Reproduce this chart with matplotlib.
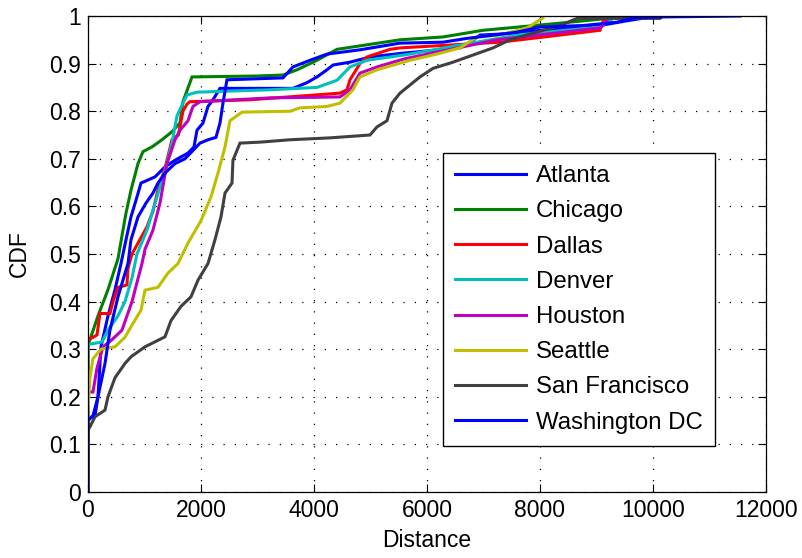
import numpy as np
import matplotlib
matplotlib.use('Agg')
import matplotlib.pyplot as plt

plt.rcParams['font.family'] = ['Liberation Sans', 'DejaVu Sans']

# CDF breakpoints (distance, cdf)
atlanta_x = [0, 0, 124, 177, 230, 354, 478, 584, 673, 761, 850, 938, 1186, 1363, 1540, 1770, 1876, 1929,
             2035, 2124, 2212, 2336, 3628, 3876, 4053, 4230, 4336, 4637, 4991, 5575, 6584, 6708, 6938,
             7292, 8478, 9062, 9540, 10071]
atlanta_y = [0, 0.155, 0.16, 0.2, 0.305, 0.37, 0.425, 0.48, 0.53, 0.578, 0.613, 0.649, 0.662, 0.683, 0.697,
             0.712, 0.725, 0.76, 0.775, 0.81, 0.824, 0.848, 0.848, 0.86, 0.872, 0.887, 0.897, 0.903, 0.914,
             0.922, 0.933, 0.94, 0.96, 0.962, 0.975, 0.98, 0.99, 1.0]

chicago_x = [0, 0, 35, 177, 354, 531, 619, 673, 761, 885, 973, 1133, 1310, 1487, 1628, 1681, 1841, 3000,
             3451, 3699, 4053, 4407, 5522, 6283, 6991, 8354, 9292, 9300]
chicago_y = [0, 0.31, 0.32, 0.37, 0.425, 0.49, 0.55, 0.586, 0.634, 0.69, 0.715, 0.725, 0.74, 0.757, 0.775,
             0.82, 0.872, 0.874, 0.876, 0.887, 0.907, 0.93, 0.95, 0.956, 0.97, 0.985, 0.996, 1.0]

dallas_x = [0, 0, 90, 160, 212, 389, 442, 531, 690, 708, 779, 1044, 1150, 1239, 1363, 1487, 1600, 1681,
            1752, 1805, 2867, 4460, 4584, 4637, 4814, 4938, 5345, 5522, 7292, 9062, 9150]
dallas_y = [0, 0.32, 0.325, 0.33, 0.375, 0.375, 0.40, 0.43, 0.435, 0.47, 0.50, 0.557, 0.59, 0.635, 0.68,
            0.74, 0.75, 0.80, 0.815, 0.82, 0.824, 0.838, 0.845, 0.866, 0.90, 0.914, 0.93, 0.933, 0.945,
            0.97, 1.0]

denver_x = [0, 0, 248, 354, 531, 655, 779, 867, 1044, 1221, 1363, 1487, 1575, 1681, 1752, 1929, 3221,
            4053, 4407, 4637, 4938, 5699, 7593, 9062, 9363]
denver_y = [0, 0.31, 0.315, 0.34, 0.37, 0.40, 0.45, 0.50, 0.55, 0.62, 0.675, 0.733, 0.79, 0.817, 0.834,
            0.84, 0.845, 0.85, 0.865, 0.893, 0.907, 0.92, 0.96, 0.977, 1.0]

houston_x = [0, 0, 88, 159, 265, 425, 602, 690, 779, 867, 956, 1009, 1150, 1274, 1398, 1540, 1628, 1770,
             1858, 1982, 3221, 4460, 4637, 4814, 5115, 5600, 7239, 9062, 9115, 9239]
houston_y = [0, 0.21, 0.21, 0.26, 0.305, 0.32, 0.34, 0.37, 0.40, 0.44, 0.48, 0.51, 0.55, 0.607, 0.69,
             0.74, 0.76, 0.78, 0.81, 0.82, 0.828, 0.83, 0.845, 0.88, 0.893, 0.91, 0.95, 0.975, 0.98, 1.0]

seattle_x = [0, 0, 35, 88, 230, 478, 655, 761, 938, 1009, 1239, 1416, 1593, 1770, 2000, 2177, 2301, 2425,
             2513, 2726, 3575, 3752, 4230, 4460, 4690, 4814, 5115, 5699, 6106, 6584, 6885, 7292, 7770,
             8053, 8060]
seattle_y = [0, 0.17, 0.24, 0.28, 0.30, 0.305, 0.325, 0.347, 0.382, 0.424, 0.43, 0.46, 0.48, 0.523, 0.57,
             0.62, 0.67, 0.725, 0.78, 0.798, 0.80, 0.807, 0.81, 0.817, 0.845, 0.872, 0.887, 0.907, 0.918,
             0.933, 0.956, 0.96, 0.975, 0.996, 1.0]

sf_x = [0, 0, 35, 124, 301, 354, 478, 655, 761, 1009, 1363, 1469, 1646, 1823, 1947, 2124, 2248, 2354,
        2425, 2549, 2566, 2690, 3044, 3575, 4283, 4991, 5115, 5292, 5381, 5522, 5876, 6106, 6460, 6814,
        7168, 7469, 7876, 8354, 8655, 10124, 10177]
sf_y = [0, 0.13, 0.137, 0.158, 0.172, 0.2, 0.24, 0.27, 0.284, 0.305, 0.326, 0.36, 0.39, 0.41, 0.445,
        0.48, 0.53, 0.578, 0.628, 0.649, 0.697, 0.733, 0.735, 0.74, 0.744, 0.75, 0.767, 0.78, 0.817,
        0.838, 0.872, 0.89, 0.903, 0.918, 0.933, 0.95, 0.964, 0.98, 0.995, 0.995, 1.0]

dc_x = [0, 0, 88, 177, 301, 389, 531, 619, 708, 761, 832, 885, 1027, 1150, 1239, 1363, 1540, 1717, 1982,
        2124, 2265, 2336, 2389, 2460, 3451, 3628, 3929, 4230, 4814, 5522, 6283, 6708, 7593, 8000, 8761,
        9363, 9646, 10124, 11540]
dc_y = [0, 0.15, 0.16, 0.2, 0.27, 0.34, 0.41, 0.445, 0.48, 0.53, 0.557, 0.578, 0.607, 0.628, 0.649, 0.67,
        0.69, 0.70, 0.733, 0.74, 0.745, 0.775, 0.817, 0.866, 0.87, 0.893, 0.907, 0.92, 0.929, 0.943,
        0.945, 0.953, 0.966, 0.977, 0.98, 0.987, 0.996, 0.998, 1.0]

names = ['Atlanta', 'Chicago', 'Dallas', 'Denver', 'Houston', 'Seattle', 'San Francisco', 'Washington DC']
xs = [atlanta_x, chicago_x, dallas_x, denver_x, houston_x, seattle_x, sf_x, dc_x]
ys = [atlanta_y, chicago_y, dallas_y, denver_y, houston_y, seattle_y, sf_y, dc_y]
colors = [(0, 0, 1), (0, 0.5, 0), (1, 0, 0), (0, 0.75, 0.75), (0.75, 0, 0.75),
          (0.75, 0.75, 0), (0.25, 0.25, 0.25), (0, 0, 1)]

fig = plt.figure(figsize=(8.02, 5.58), dpi=100)
ax = fig.add_axes([0.1097, 0.1183, 0.8454, 0.853])

for x, y, c, n in zip(xs, ys, colors, names):
    ax.plot(x, y, color=c, lw=2.2, label=n, solid_joinstyle='miter')

ax.set_xlim(0, 12000)
ax.set_ylim(0, 1)
ax.set_xticks(np.arange(0, 12001, 2000))
ax.set_yticks(np.arange(0, 1.01, 0.1))
ax.set_yticklabels(['0', '0.1', '0.2', '0.3', '0.4', '0.5', '0.6', '0.7', '0.8', '0.9', '1'])
ax.tick_params(direction='in', top=True, right=True, length=6, width=0.8, labelsize=16.5, pad=5)
ax.grid(True, color='black', linestyle=(0, (1, 8)), linewidth=0.9)
for s in ax.spines.values():
    s.set_linewidth(0.9)

ax.set_xlabel('Distance', fontsize=16.5, labelpad=5)
ax.set_ylabel('CDF', fontsize=16.5, labelpad=13)

leg = ax.legend(loc='upper left', bbox_to_anchor=(0.524, 0.712), fontsize=17.3, frameon=True,
                fancybox=False, framealpha=1, edgecolor='black', handlelength=2.95,
                handletextpad=0.42, labelspacing=0.55, borderpad=0.5, borderaxespad=0)
leg.get_frame().set_linewidth(1.0)

fig.savefig('out.png', dpi=100)
